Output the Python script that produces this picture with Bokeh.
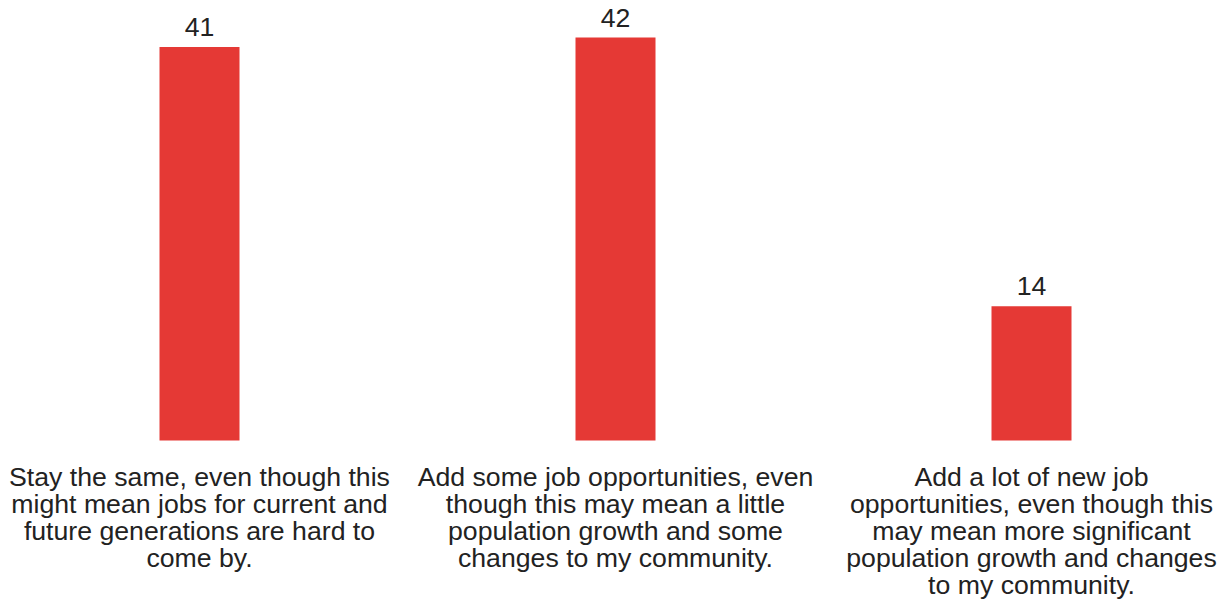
from bokeh.plotting import figure
from bokeh.models import ColumnDataSource, Range1d
from bokeh.core.properties import value
from bokeh.embed import file_html
from bokeh.resources import INLINE

categories = [
    "Stay the same, even though this\nmight mean jobs for current and\nfuture generations are hard to\ncome by.",
    "Add some job opportunities, even\nthough this may mean a little\npopulation growth and some\nchanges to my community.",
    "Add a lot of new job\nopportunities, even though this\nmay mean more significant\npopulation growth and changes\nto my community.",
]
values = [41, 42, 14]
value_labels = [str(v) for v in values]
positions = [0, 1, 2]

W, H = 1218, 602
px_per_x = 416.0
x0_px = 199
px_per_y = 9.595
base_px = 440

p = figure(width=W, height=H, output_backend="svg", toolbar_location=None,
           min_border=0, min_border_left=0, min_border_right=0,
           min_border_top=0, min_border_bottom=0)
p.x_range = Range1d(-x0_px / px_per_x, (W - x0_px) / px_per_x)
p.y_range = Range1d(-(H - base_px) / px_per_y, base_px / px_per_y)
p.axis.visible = False
p.grid.visible = False
p.outline_line_color = None
p.background_fill_color = "white"
p.border_fill_color = "white"

src = ColumnDataSource(dict(x=positions, top=values, lab=value_labels, cat=categories,
                            zero=[0, 0, 0]))
p.vbar(x="x", top="top", bottom=0, width=80 / px_per_x, source=src,
       fill_color="#e53935", line_color=None)
p.text(x="x", y="top", text="lab", source=src, text_align="center",
       text_baseline="alphabetic", y_offset=-20, text_font=value("Liberation Sans"),
       text_font_size="26.67px", text_color="#222222")
p.text(x="x", y="zero", text="cat", source=src, text_align="center",
       text_baseline="top", y_offset=21, text_font=value("Liberation Sans"),
       text_font_size="26.67px", text_color="#222222", text_line_height=0.9)

open("out.html", "w").write(file_html(p, INLINE))
